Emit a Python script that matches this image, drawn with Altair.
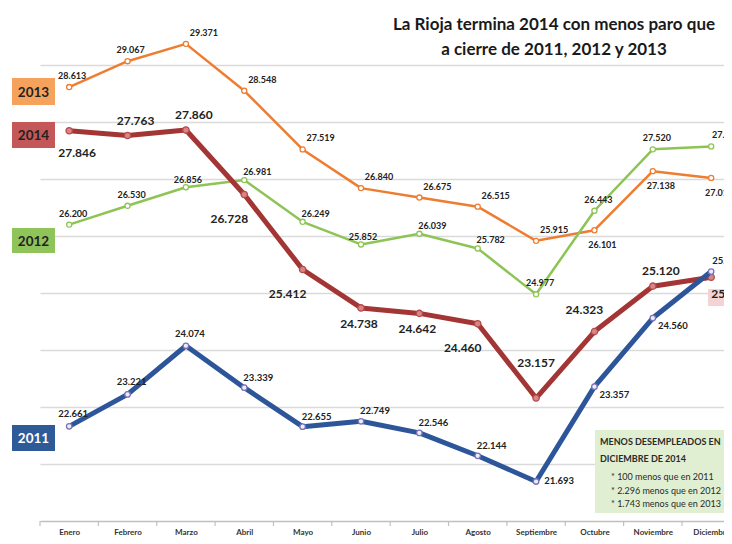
import json
import altair as alt
import pandas as pd

# ---------------- data ----------------
months = ["Enero", "Febrero", "Marzo", "Abril", "Mayo", "Junio", "Julio",
          "Agosto", "Septiembre", "Octubre", "Noviembre", "Diciembre"]

paro_2011 = [22661, 23221, 24074, 23339, 22655, 22749, 22546, 22144, 21693, 23357, 24560, 25376]
paro_2012 = [26200, 26530, 26856, 26981, 26249, 25852, 26039, 25782, 24977, 26443, 27520, 27572]
paro_2013 = [28613, 29067, 29371, 28548, 27519, 26840, 26675, 26515, 25915, 26101, 27138, 27019]
paro_2014 = [27846, 27763, 27860, 26728, 25412, 24738, 24642, 24460, 23157, 24323, 25120, 25276]

grid_values = [22000, 23000, 24000, 25000, 26000, 27000, 28000, 29000]

title_lines = ["La Rioja termina 2014 con menos paro que", "a cierre de 2011, 2012 y 2013"]
note_head = ["MENOS DESEMPLEADOS EN", "DICIEMBRE DE 2014"]
note_items = ["* 100 menos que en 2011", "* 2.296 menos que en 2012", "* 1.743 menos que en 2013"]

# ---------------- style (label placement per point) ----------------
style = {
    "2013": dict(values=paro_2013, color="#ee7d31", width=2.5, pfill="#ffffff", pstroke="#ee7d31",
                 psize=26, fsize=9,
                 offsets={"a": (3, -11), "ar": (18, -11), "br": (8, 15)},
                 place=["a", "a", "ar", "ar", "ar", "ar", "ar", "ar", "ar", "br", "br", "br"]),
    "2012": dict(values=paro_2012, color="#8dc455", width=2.5, pfill="#ffffff", pstroke="#8dc455",
                 psize=26, fsize=9,
                 offsets={"a": (4, -11), "ar": (13, -8), "m": (2, -7), "e": (15, -11)},
                 place=["a", "a", "m", "ar", "ar", "m", "ar", "ar", "a", "a", "a", "e"]),
    "2014": dict(values=paro_2014, color="#a33535", width=5, pfill="#d98585", pstroke="#b54a4a",
                 psize=40, fsize=12,
                 offsets={"a": (8, -15), "b": (-2, 16), "bl": (-15, 24), "br": (8, 22),
                          "al": (-10, -22), "a2": (0, -35), "r": (19, 17)},
                 place=["br", "a", "a", "bl", "bl", "b", "b", "bl", "a2", "al", "a", "r"]),
    "2011": dict(values=paro_2011, color="#2c5699", width=5, pfill="#eeeefa", pstroke="#7a72b8",
                 psize=30, fsize=9.5,
                 offsets={"a": (4, -12), "ar": (14, -10), "r": (23, 0), "br": (20, 8),
                          "e": (16, -11)},
                 place=["a", "a", "a", "ar", "ar", "ar", "ar", "ar", "r", "br", "br", "e"]),
}
draw_order = ["2013", "2012", "2014", "2011"]

FONT = "Lato"
TXT = "#222222"

x_enc = alt.X("idx:Q",
              scale=alt.Scale(domain=[-0.5, 11.22], nice=False, zero=False),
              axis=alt.Axis(values=list(range(len(months))),
                            labelExpr=f"{json.dumps(months)}[datum.value]",
                            grid=False, ticks=False, domain=True, domainColor="#c0c0c0",
                            domainWidth=1.5, labelFont=FONT, labelFontWeight="bold",
                            labelFontSize=8, labelColor="#333333", labelPadding=7,
                            labelOverlap=False, labelFlush=False, title=None))
y_enc = alt.Y("value:Q",
              scale=alt.Scale(domain=[21000, 30000], nice=False, zero=False),
              axis=alt.Axis(values=grid_values, grid=True, gridColor="#dadada", gridWidth=1.5,
                            labels=False, ticks=False, domain=False, title=None))


def fmt(v):
    return f"{v:,}".replace(",", ".")


layers = []
one = pd.DataFrame({"a": [0]})

# grid / axes carrier
all_rows = []
for name in draw_order:
    for i, v in enumerate(style[name]["values"]):
        all_rows.append({"idx": i, "value": v})
layers.append(alt.Chart(pd.DataFrame(all_rows)).mark_point(opacity=0).encode(x=x_enc, y=y_enc))

# small ticks between months
tick_df = pd.DataFrame({"idx": [i - 0.5 for i in range(len(months))]})
layers.append(alt.Chart(tick_df).mark_rule(color="#c0c0c0", strokeWidth=1.2).encode(
    x=x_enc, y=alt.value(513), y2=alt.value(518)))

# pink highlight behind the final 2014 label
layers.append(alt.Chart(one).mark_rect(color="#f3d3d3").encode(
    x=alt.value(668), x2=alt.value(710), y=alt.value(281), y2=alt.value(298)))

# lines + points
for name in draw_order:
    s = style[name]
    df = pd.DataFrame({"idx": list(range(len(months))), "value": s["values"]})
    layers.append(alt.Chart(df).mark_line(color=s["color"], strokeWidth=s["width"],
                                          strokeJoin="round").encode(x=x_enc, y=y_enc))
    layers.append(alt.Chart(df).mark_point(shape="circle", filled=True, fill=s["pfill"],
                                           stroke=s["pstroke"], strokeWidth=1.3,
                                           size=s["psize"], opacity=1).encode(x=x_enc, y=y_enc))

# value labels
for name in draw_order:
    s = style[name]
    df = pd.DataFrame({"idx": list(range(len(months))), "value": s["values"],
                       "label": [fmt(v) for v in s["values"]], "place": s["place"]})
    for code, (dx, dy) in s["offsets"].items():
        layers.append(alt.Chart(df).transform_filter(alt.datum.place == code).mark_text(
            dx=dx, dy=dy, font=FONT, fontWeight="bold", fontSize=s["fsize"], color=TXT
        ).encode(x=x_enc, y=y_enc, text="label:N"))

# year boxes on the left
year_boxes = [("2013", "#f4a25c", TXT, 70, 97),
              ("2014", "#c45858", TXT, 114, 140),
              ("2012", "#8fc45b", TXT, 220, 245),
              ("2011", "#2e5a98", "#ffffff", 417, 443)]
for label, fill, tcol, y0, y1 in year_boxes:
    layers.append(alt.Chart(one).mark_rect(color=fill).encode(
        x=alt.value(-28), x2=alt.value(15), y=alt.value(y0), y2=alt.value(y1)))
    layers.append(alt.Chart(one).mark_text(font=FONT, fontWeight="bold", fontSize=13.5,
                                           color=tcol).encode(
        x=alt.value(-6.5), y=alt.value((y0 + y1) / 2 + 1), text=alt.value(label)))

# title
for k, line in enumerate(title_lines):
    layers.append(alt.Chart(one).mark_text(font=FONT, fontWeight="bold", fontSize=17,
                                           color="#1a1a1a").encode(
        x=alt.value(514), y=alt.value(17 + 25 * k), text=alt.value(line)))

# note box
layers.append(alt.Chart(one).mark_rect(color="#e0efd2").encode(
    x=alt.value(555), x2=alt.value(720), y=alt.value(422), y2=alt.value(505)))
for k, line in enumerate(note_head):
    layers.append(alt.Chart(one).mark_text(font=FONT, fontWeight="bold", fontSize=9,
                                           color="#2a2a2a", align="left").encode(
        x=alt.value(560), y=alt.value(434 + 17 * k), text=alt.value(line)))
for k, line in enumerate(note_items):
    layers.append(alt.Chart(one).mark_text(font=FONT, fontSize=9, color="#2a2a2a",
                                           align="left").encode(
        x=alt.value(571), y=alt.value(469 + 13.5 * k), text=alt.value(line)))

chart = alt.layer(*layers).properties(
    width=684, height=513,
    padding={"left": 32, "top": 0, "right": 0, "bottom": 15},
    autosize=alt.AutoSizeParams(type="none"),
    background="#ffffff",
).configure_view(stroke=None)

chart.save("out.html", embed_options={"renderer": "svg", "actions": False})
